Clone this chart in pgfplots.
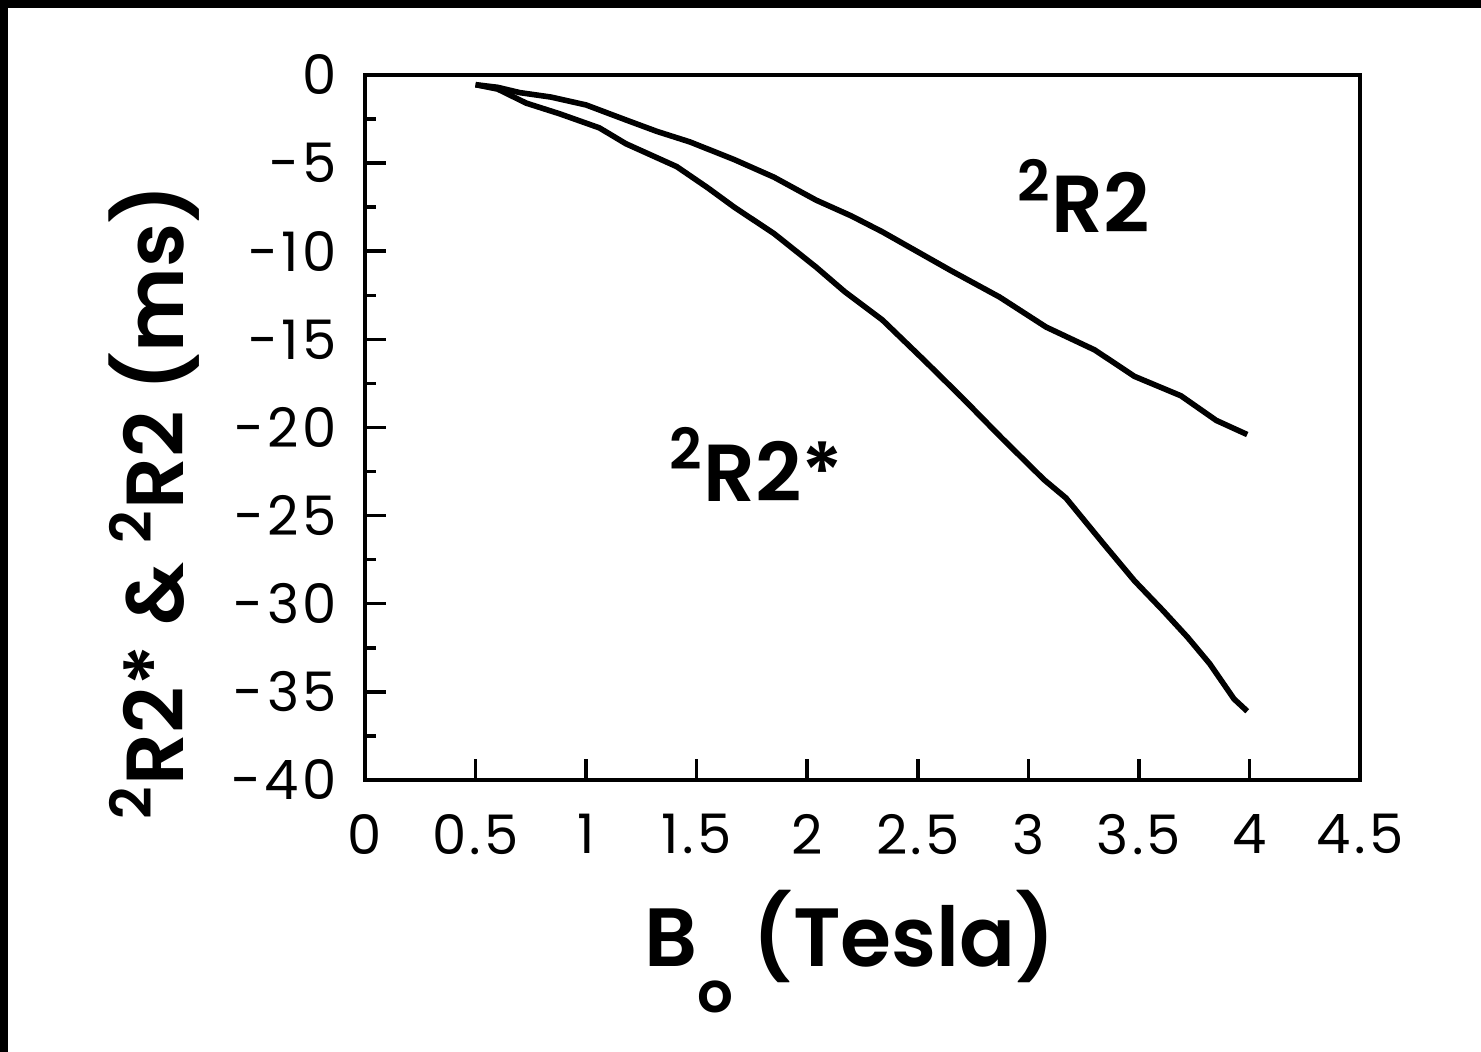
\documentclass[border=0pt]{standalone}
\usepackage{fontspec}
\setmainfont{Poppins}
\newfontfamily\labelfont{Poppins SemiBold}
\newfontfamily\tickfont{Poppins}[LetterSpace=6]
\usepackage{pgfplots}
\pgfplotsset{compat=1.18}

\pgfplotstableread{
x y
0.50 -0.55
0.60 -0.70
0.70 -1.00
0.84 -1.25
1.00 -1.70
1.18 -2.55
1.32 -3.20
1.47 -3.80
1.67 -4.80
1.85 -5.80
2.04 -7.10
2.20 -8.00
2.34 -8.90
2.65 -11.10
2.87 -12.60
3.08 -14.30
3.30 -15.60
3.48 -17.10
3.69 -18.20
3.85 -19.60
3.99 -20.40
}\dataRtwo

\pgfplotstableread{
x y
0.50 -0.55
0.60 -0.80
0.73 -1.60
0.88 -2.20
1.06 -3.00
1.18 -3.90
1.41 -5.20
1.55 -6.40
1.67 -7.50
1.85 -9.00
2.04 -10.90
2.17 -12.30
2.34 -13.90
2.53 -16.20
2.70 -18.30
2.88 -20.60
3.07 -22.95
3.17 -24.00
3.34 -26.60
3.48 -28.70
3.61 -30.40
3.72 -31.90
3.82 -33.40
3.93 -35.40
3.99 -36.10
}\dataRtwostar

\begin{document}
\begin{tikzpicture}[x=1mm,y=1mm]
\useasboundingbox (0,0) rectangle (148.1,105.2);
\fill[black] (0,0) rectangle (0.8,105.2);
\fill[black] (0,104.4) rectangle (148.1,105.2);
\begin{axis}[
  at={(36.5mm,27.2mm)}, anchor=south west,
  scale only axis, width=99.5mm, height=70.5mm,
  xmin=0, xmax=4.5, ymin=-40, ymax=0,
  xtick={0,0.5,...,4.5}, ytick={-40,-35,...,0},
  minor y tick num=1,
  tick align=inside, tick pos=left,
  major tick length=2.1mm, minor tick length=1.1mm,
  axis line style={line width=1pt},
  every tick/.style={line width=1pt, black},
  /pgf/number format/assume math mode=true,
  ticklabel style={font=\tickfont\fontsize{15.5}{16}\selectfont},
  xticklabel style={yshift=-2.2mm},
  yticklabel style={xshift=-1.6mm},
  clip=false,
]
\addplot[black, line width=1.6pt] table {\dataRtwo};
\addplot[black, line width=1.6pt] table {\dataRtwostar};
\node[anchor=base, font=\labelfont\fontsize{23}{25}\selectfont] at (axis cs:3.25,-8.96) {\textsuperscript{2}R2};
\node[anchor=base, font=\labelfont\fontsize{23}{25}\selectfont] at (axis cs:1.77,-24.2) {\textsuperscript{2}R2*};
\end{axis}
\node[rotate=90, anchor=base, font=\labelfont\fontsize{23}{25}\selectfont] at (18.3,55.0) {\textsuperscript{2}R2* \& \textsuperscript{2}R2 (ms)};
\node[anchor=base, font=\labelfont\fontsize{23.5}{25}\selectfont] at (85.0,8.5) {B\raisebox{-0.55em}{\fontsize{16}{16}\selectfont o} (Tesla)};
\end{tikzpicture}
\end{document}
